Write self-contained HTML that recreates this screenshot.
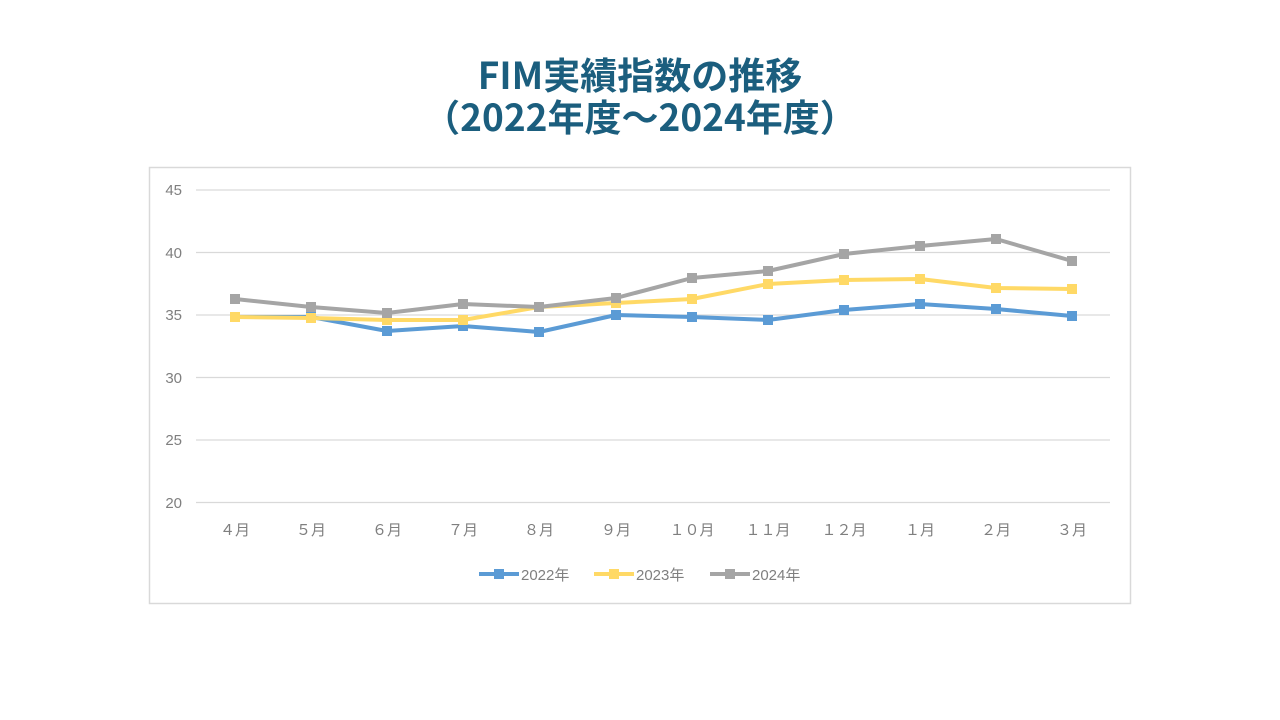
<!DOCTYPE html>
<html><head><meta charset="utf-8"><style>
body{margin:0;width:1280px;height:720px;background:#fff;overflow:hidden;font-family:"Liberation Sans","Noto Sans CJK JP",sans-serif}
.t{position:absolute;left:0;width:1280px;text-align:center;color:#1b5e7e;font-weight:bold;font-size:37px;font-family:"Noto Sans CJK JP","Liberation Sans",sans-serif}
</style></head><body>
<div class="t" style="top:46px">FIM実績指数の推移</div>
<div class="t" style="top:88px">（2022年度～2024年度）</div>
<svg width="1280" height="720" style="position:absolute;left:0;top:0" font-family="Liberation Sans, Noto Sans CJK JP, sans-serif">
<rect x="149.5" y="167.5" width="981" height="436" fill="none" stroke="#d9d9d9" stroke-width="1.5"/>
<g stroke="#d9d9d9" stroke-width="1.2">
<line x1="196" x2="1110" y1="190" y2="190"/><line x1="196" x2="1110" y1="252.5" y2="252.5"/><line x1="196" x2="1110" y1="315" y2="315"/><line x1="196" x2="1110" y1="377.5" y2="377.5"/><line x1="196" x2="1110" y1="440" y2="440"/><line x1="196" x2="1110" y1="502.5" y2="502.5"/>
</g>
<g fill="#7f7f7f" font-size="15" text-anchor="end">
<text x="182" y="195">45</text><text x="182" y="258">40</text><text x="182" y="320">35</text><text x="182" y="383">30</text><text x="182" y="445">25</text><text x="182" y="508">20</text>
</g>
<g fill="#7f7f7f" font-size="15" text-anchor="middle">
<text x="235" y="535">４月</text><text x="311" y="535">５月</text><text x="387" y="535">６月</text><text x="463" y="535">７月</text><text x="539" y="535">８月</text><text x="616" y="535">９月</text><text x="692" y="535">１０月</text><text x="768" y="535">１１月</text><text x="844" y="535">１２月</text><text x="920" y="535">１月</text><text x="996" y="535">２月</text><text x="1072" y="535">３月</text>
</g>
<g fill="none" stroke-width="4" stroke-linejoin="round">
<polyline stroke="#5b9bd5" points="235,317 311,317 387,331 463,326 539,332 616,315 692,317 768,320 844,310 920,304 996,309 1072,316"/>
<polyline stroke="#ffd966" points="235,317 311,318 387,320 463,320 539,307 616,303 692,299 768,284 844,280 920,279 996,288 1072,289"/>
<polyline stroke="#a5a5a5" points="235,299 311,307 387,313 463,304 539,307 616,298 692,278 768,271 844,254 920,246 996,239 1072,261"/>
</g>
<g fill="#5b9bd5"><rect x="230" y="312" width="10" height="10"/><rect x="306" y="312" width="10" height="10"/><rect x="382" y="326" width="10" height="10"/><rect x="458" y="321" width="10" height="10"/><rect x="534" y="327" width="10" height="10"/><rect x="611" y="310" width="10" height="10"/><rect x="687" y="312" width="10" height="10"/><rect x="763" y="315" width="10" height="10"/><rect x="839" y="305" width="10" height="10"/><rect x="915" y="299" width="10" height="10"/><rect x="991" y="304" width="10" height="10"/><rect x="1067" y="311" width="10" height="10"/></g>
<g fill="#ffd966"><rect x="230" y="312" width="10" height="10"/><rect x="306" y="313" width="10" height="10"/><rect x="382" y="315" width="10" height="10"/><rect x="458" y="315" width="10" height="10"/><rect x="534" y="302" width="10" height="10"/><rect x="611" y="298" width="10" height="10"/><rect x="687" y="294" width="10" height="10"/><rect x="763" y="279" width="10" height="10"/><rect x="839" y="275" width="10" height="10"/><rect x="915" y="274" width="10" height="10"/><rect x="991" y="283" width="10" height="10"/><rect x="1067" y="284" width="10" height="10"/></g>
<g fill="#a5a5a5"><rect x="230" y="294" width="10" height="10"/><rect x="306" y="302" width="10" height="10"/><rect x="382" y="308" width="10" height="10"/><rect x="458" y="299" width="10" height="10"/><rect x="534" y="302" width="10" height="10"/><rect x="611" y="293" width="10" height="10"/><rect x="687" y="273" width="10" height="10"/><rect x="763" y="266" width="10" height="10"/><rect x="839" y="249" width="10" height="10"/><rect x="915" y="241" width="10" height="10"/><rect x="991" y="234" width="10" height="10"/><rect x="1067" y="256" width="10" height="10"/></g>
<g font-size="15" fill="#7f7f7f">
<line x1="479" x2="519" y1="574" y2="574" stroke="#5b9bd5" stroke-width="4"/><rect x="494" y="569" width="10" height="10" fill="#5b9bd5"/><text x="521" y="580">2022年</text>
<line x1="594" x2="634" y1="574" y2="574" stroke="#ffd966" stroke-width="4"/><rect x="609" y="569" width="10" height="10" fill="#ffd966"/><text x="636" y="580">2023年</text>
<line x1="710" x2="750" y1="574" y2="574" stroke="#a5a5a5" stroke-width="4"/><rect x="725" y="569" width="10" height="10" fill="#a5a5a5"/><text x="752" y="580">2024年</text>
</g>
</svg>
</body></html>
